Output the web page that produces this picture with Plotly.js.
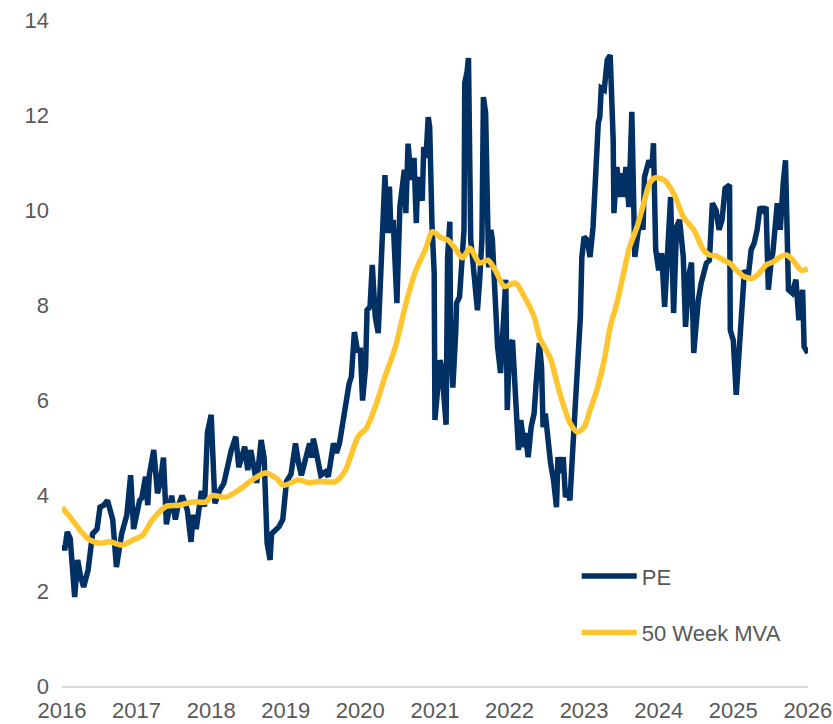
<!DOCTYPE html>
<html>
<head>
<meta charset="utf-8">
<script src="https://cdn.plot.ly/plotly-3.0.1.min.js"></script>
<style>
  html, body { margin: 0; padding: 0; background: #ffffff; }
  #chart { width: 833px; height: 724px; }
</style>
</head>
<body>
<div id="chart"></div>
<script>
// ---- Data ----
const peYears = [
  2016.00, 2016.04, 2016.07, 2016.11, 2016.17, 2016.21, 2016.25, 2016.29, 2016.35, 2016.41,
  2016.47, 2016.51, 2016.56, 2016.61, 2016.68, 2016.73, 2016.80, 2016.87, 2016.92, 2016.96,
  2017.04, 2017.07, 2017.12, 2017.15, 2017.17, 2017.23, 2017.28, 2017.32, 2017.36, 2017.40,
  2017.47, 2017.52, 2017.55, 2017.61, 2017.68, 2017.73, 2017.76, 2017.80, 2017.87, 2017.91,
  2017.95, 2018.00, 2018.05, 2018.11, 2018.17, 2018.23, 2018.27, 2018.33, 2018.37, 2018.45,
  2018.49, 2018.53, 2018.61, 2018.67, 2018.71, 2018.75, 2018.79, 2018.81, 2018.87, 2018.91,
  2018.96, 2019.01, 2019.07, 2019.13, 2019.17, 2019.21, 2019.27, 2019.32, 2019.35, 2019.37,
  2019.41, 2019.47, 2019.53, 2019.57, 2019.64, 2019.68, 2019.72, 2019.77, 2019.80, 2019.85,
  2019.88, 2019.92, 2019.96, 2020.00, 2020.03, 2020.07, 2020.09, 2020.13, 2020.16, 2020.20,
  2020.24, 2020.28, 2020.33, 2020.36, 2020.39, 2020.41, 2020.44, 2020.49, 2020.53, 2020.59,
  2020.61, 2020.64, 2020.68, 2020.72, 2020.75, 2020.77, 2020.83, 2020.85, 2020.88, 2020.91,
  2020.93, 2020.96, 2020.99, 2021.00, 2021.04, 2021.07, 2021.09, 2021.15, 2021.17, 2021.20,
  2021.21, 2021.24, 2021.28, 2021.29, 2021.33, 2021.35, 2021.39, 2021.40, 2021.43, 2021.45,
  2021.48, 2021.51, 2021.55, 2021.57, 2021.60, 2021.63, 2021.65, 2021.68, 2021.72, 2021.75,
  2021.77, 2021.81, 2021.84, 2021.88, 2021.91, 2021.95, 2021.97, 2022.00, 2022.04, 2022.08,
  2022.12, 2022.15, 2022.20, 2022.21, 2022.25, 2022.29, 2022.33, 2022.36, 2022.40, 2022.43,
  2022.45, 2022.48, 2022.52, 2022.55, 2022.59, 2022.63, 2022.65, 2022.68, 2022.72, 2022.75,
  2022.79, 2022.81, 2022.84, 2022.87, 2022.89, 2022.92, 2022.95, 2022.97, 2023.00, 2023.04,
  2023.08, 2023.12, 2023.15, 2023.19, 2023.21, 2023.23, 2023.27, 2023.31, 2023.35, 2023.39,
  2023.40, 2023.44, 2023.48, 2023.51, 2023.53, 2023.56, 2023.60, 2023.64, 2023.68, 2023.72,
  2023.75, 2023.79, 2023.81, 2023.87, 2023.91, 2023.93, 2023.96, 2024.00, 2024.04, 2024.08,
  2024.13, 2024.16, 2024.20, 2024.24, 2024.28, 2024.33, 2024.36, 2024.41, 2024.44, 2024.47,
  2024.53, 2024.57, 2024.64, 2024.68, 2024.72, 2024.77, 2024.81, 2024.85, 2024.89, 2024.95,
  2024.96, 2025.00, 2025.04, 2025.08, 2025.11, 2025.15, 2025.20, 2025.24, 2025.28, 2025.32,
  2025.36, 2025.40, 2025.44, 2025.47, 2025.51, 2025.53, 2025.59, 2025.63, 2025.67, 2025.70,
  2025.74, 2025.79, 2025.84, 2025.88, 2025.93, 2025.95, 2026.00
];
const peValues = [
  2.90, 2.90, 3.24, 3.10, 1.87, 2.65, 2.30, 2.08, 2.44, 3.20,
  3.30, 3.76, 3.80, 3.90, 3.50, 2.50, 3.20, 3.60, 4.43, 3.30,
  3.90, 3.95, 4.40, 3.80, 4.43, 4.96, 4.05, 4.30, 4.80, 3.40,
  4.00, 3.50, 3.75, 4.00, 3.70, 3.03, 3.60, 3.30, 4.10, 3.77,
  5.33, 5.70, 3.84, 4.10, 4.26, 4.68, 4.96, 5.24, 4.60, 5.03,
  4.54, 4.96, 4.27, 5.17, 4.80, 3.00, 2.65, 3.20, 3.30, 3.35,
  3.50, 4.30, 4.45, 5.10, 4.70, 4.43, 4.80, 5.10, 4.80, 5.20,
  4.90, 4.43, 4.50, 4.40, 5.10, 4.90, 5.10, 5.66, 5.80, 6.36,
  6.50, 7.44, 7.06, 7.06, 6.00, 6.70, 7.90, 7.97, 8.85, 7.76,
  7.42, 8.74, 10.74, 9.52, 10.50, 9.52, 9.80, 8.05, 10.07, 10.85,
  9.94, 11.40, 10.64, 11.10, 9.73, 10.70, 10.20, 11.33, 11.10, 11.96,
  11.75, 9.73, 8.68, 5.59, 6.20, 6.85, 6.70, 5.49, 9.02, 9.76,
  7.27, 6.27, 7.48, 8.05, 8.18, 8.54, 9.59, 12.68, 12.90, 13.20,
  9.38, 8.90, 8.33, 7.90, 8.54, 9.38, 12.38, 12.04, 8.80, 9.59,
  9.38, 8.26, 7.13, 6.58, 7.55, 8.54, 5.80, 7.13, 7.27, 6.16,
  4.96, 5.59, 5.02, 5.32, 4.81, 5.44, 5.73, 6.43, 7.21, 6.70,
  5.44, 5.73, 4.96, 4.69, 4.33, 3.76, 4.81, 4.48, 4.81, 3.97,
  4.10, 3.90, 4.75, 5.73, 6.22, 7.27, 7.76, 9.02, 9.44, 9.38,
  9.02, 9.65, 10.64, 11.83, 11.96, 12.57, 12.53, 13.16, 13.26, 11.48,
  9.94, 10.91, 10.28, 10.78, 10.28, 10.91, 10.07, 12.07, 9.02, 9.44,
  9.86, 9.59, 10.70, 11.05, 10.91, 11.41, 9.17, 8.74, 9.10, 7.97,
  9.73, 10.28, 7.84, 9.65, 9.80, 9.02, 7.55, 8.68, 8.90, 7.00,
  8.10, 8.47, 8.89, 8.95, 10.15, 10.00, 9.59, 9.80, 10.46, 10.53,
  7.48, 7.27, 6.12, 7.06, 7.84, 8.74, 8.60, 9.17, 9.31, 9.59,
  10.07, 10.00, 10.07, 8.33, 8.95, 9.10, 10.15, 9.59, 10.57, 11.05,
  8.33, 8.26, 8.54, 7.69, 8.33, 7.13, 7.00
];

const mvaYears = [
  2016.00, 2016.11, 2016.24, 2016.37, 2016.51, 2016.64, 2016.81, 2016.95, 2017.08, 2017.21,
  2017.40, 2017.57, 2017.75, 2017.93, 2018.01, 2018.20, 2018.37, 2018.55, 2018.73, 2018.87,
  2018.97, 2019.17, 2019.31, 2019.44, 2019.67, 2019.80, 2019.97, 2020.08, 2020.20, 2020.33,
  2020.47, 2020.60, 2020.73, 2020.87, 2020.97, 2021.08, 2021.17, 2021.27, 2021.37, 2021.47,
  2021.60, 2021.71, 2021.81, 2021.93, 2022.08, 2022.20, 2022.33, 2022.41, 2022.55, 2022.64,
  2022.73, 2022.81, 2022.91, 2023.00, 2023.08, 2023.17, 2023.27, 2023.35, 2023.44, 2023.53,
  2023.61, 2023.71, 2023.80, 2023.88, 2023.95, 2024.07, 2024.15, 2024.24, 2024.33, 2024.47,
  2024.60, 2024.68, 2024.77, 2024.87, 2024.95, 2025.04, 2025.15, 2025.27, 2025.35, 2025.44,
  2025.53, 2025.61, 2025.71, 2025.80, 2025.91, 2026.00
];
const mvaValues = [
  3.75, 3.55, 3.28, 3.07, 3.00, 3.03, 2.96, 3.07, 3.17, 3.49,
  3.78, 3.80, 3.87, 3.87, 4.00, 3.97, 4.12, 4.33, 4.48, 4.37,
  4.22, 4.33, 4.27, 4.30, 4.30, 4.54, 5.24, 5.42, 5.87, 6.50,
  7.13, 7.97, 8.68, 9.17, 9.55, 9.42, 9.38, 9.20, 9.00, 9.20,
  8.89, 8.95, 8.74, 8.40, 8.47, 8.18, 7.76, 7.30, 6.88, 6.35,
  5.87, 5.53, 5.34, 5.44, 5.80, 6.22, 6.85, 7.55, 8.05, 8.68,
  9.23, 9.65, 10.15, 10.57, 10.68, 10.64, 10.49, 10.22, 9.86, 9.59,
  9.17, 9.06, 9.04, 8.95, 8.89, 8.74, 8.60, 8.58, 8.68, 8.85,
  8.91, 9.00, 9.06, 8.95, 8.74, 8.77
];

const xTickVals = [2016, 2017, 2018, 2019, 2020, 2021, 2022, 2023, 2024, 2025, 2026];
const xTickText = ["2016", "2017", "2018", "2019", "2020", "2021", "2022", "2023", "2024", "2025", "2026"];
const yTickVals = [0, 2, 4, 6, 8, 10, 12, 14];

const seriesNames = ["PE", "50 Week MVA"];
const seriesColors = ["#003064", "#FFC52F"];

// ---- Chart ----
const textColor = "#595959";
const fontFamily = "'Liberation Sans', Arial, sans-serif";

const traces = [
  {
    type: "scatter", mode: "lines", name: seriesNames[0],
    x: peYears, y: peValues,
    line: { color: seriesColors[0], width: 5.5, shape: "linear" },
    legend: "legend"
  },
  {
    type: "scatter", mode: "lines", name: seriesNames[1],
    x: mvaYears, y: mvaValues,
    line: { color: seriesColors[1], width: 5.5, shape: "spline", smoothing: 0.8 },
    legend: "legend2"
  }
];

const legendCommon = {
  xanchor: "left", yanchor: "middle",
  bgcolor: "rgba(0,0,0,0)",
  font: { family: fontFamily, size: 22, color: textColor },
  itemwidth: 55
};

const layout = {
  width: 833, height: 724,
  margin: { l: 62, r: 25, t: 20, b: 38 },
  paper_bgcolor: "#ffffff", plot_bgcolor: "#ffffff",
  font: { family: fontFamily, size: 22, color: textColor },
  showlegend: true,
  legend: Object.assign({}, legendCommon, { x: 0.69, y: 0.165 }),
  legend2: Object.assign({}, legendCommon, { x: 0.69, y: 0.08 }),
  xaxis: {
    range: [2016, 2026.002],
    tickvals: xTickVals, ticktext: xTickText,
    showgrid: false, zeroline: false,
    showline: true, linecolor: "#D9D9D9", linewidth: 2,
    ticks: "", ticklabelstandoff: 4,
    ticklabeloverflow: "allow",
    tickfont: { family: fontFamily, size: 22, color: textColor },
    fixedrange: true
  },
  yaxis: {
    range: [0, 14],
    tickvals: yTickVals,
    showgrid: false, zeroline: false, showline: false,
    ticks: "", ticklabelstandoff: 12,
    tickfont: { family: fontFamily, size: 22, color: textColor },
    fixedrange: true
  }
};

Plotly.newPlot("chart", traces, layout, { displayModeBar: false, staticPlot: true });
</script>
</body>
</html>
